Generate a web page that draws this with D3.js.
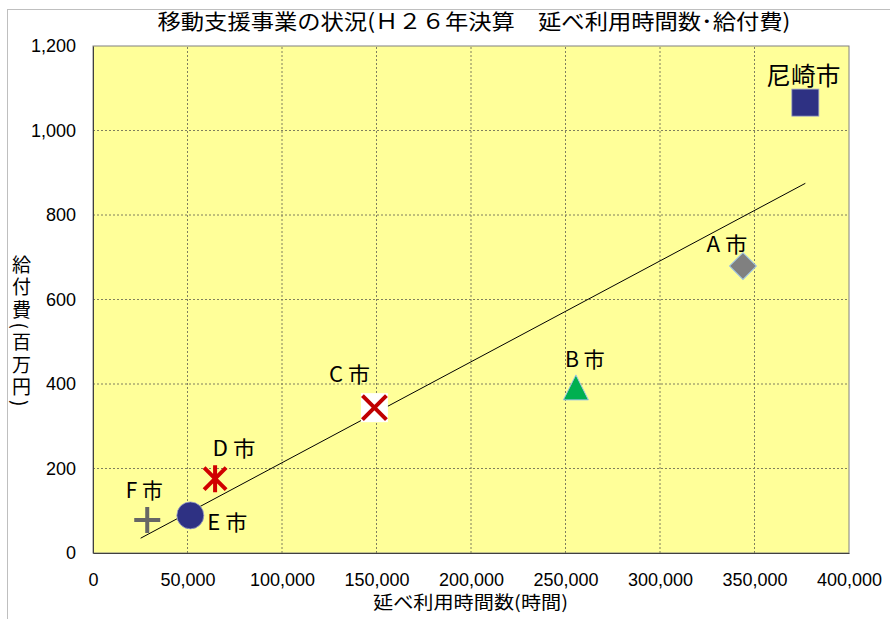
<!DOCTYPE html>
<html>
<head>
<meta charset="utf-8">
<script src="https://cdn.jsdelivr.net/npm/d3@7"></script>
<style>
  body { margin: 0; background: #fff; }
  svg { display: block; }
</style>
</head>
<body>
<div id="chart"></div>
<script>
// データ
const cities = ["尼崎市", "A 市", "B 市", "C 市", "D 市", "E 市", "F 市"];
const hours  = [376900, 343900, 255500, 148900, 64600, 51500, 28700];
const costs  = [1066, 679, 392, 344, 176, 89, 78];

// 近似直線の両端
const trendHours = [25200, 376900];
const trendCosts = [35, 875];

const xTicks = [0, 50000, 100000, 150000, 200000, 250000, 300000, 350000, 400000];
const yTicks = [0, 200, 400, 600, 800, 1000, 1200];

const titleText = "移動支援事業の状況(Ｈ２６年決算　延べ利用時間数･給付費)";
const xTitle = "延べ利用時間数(時間)";
const yTitle = "給付費(百万円)";

const width = 890, height = 619;
const jp = "'Noto Sans CJK JP', sans-serif";
const num = "'Liberation Sans', Arial, sans-serif";

const svg = d3.select("#chart").append("svg")
  .attr("width", width)
  .attr("height", height);

// 外枠
svg.append("rect")
  .attr("x", 7.5).attr("y", 9.5)
  .attr("width", 900).attr("height", 700)
  .attr("fill", "#fff")
  .attr("stroke", "#bfbfbf");

const x = d3.scaleLinear().domain([0, 400000]).range([93, 849]);
const y = d3.scaleLinear().domain([0, 1200]).range([553, 46]);

// プロットエリア
svg.append("rect")
  .attr("x", x(0)).attr("y", y(1200))
  .attr("width", x(400000) - x(0))
  .attr("height", y(0) - y(1200))
  .attr("fill", "#ffff99")
  .attr("stroke", "#808080");

// 目盛線
const grid = svg.append("g").attr("class", "grid");
grid.selectAll("line.v")
  .data(xTicks.slice(1, -1))
  .enter().append("line")
  .attr("x1", d => x(d)).attr("x2", d => x(d))
  .attr("y1", y(0)).attr("y2", y(1200))
  .attr("stroke", "#7f7f5f")
  .attr("stroke-dasharray", "2,2");
grid.selectAll("line.h")
  .data(yTicks.slice(1, -1))
  .enter().append("line")
  .attr("y1", d => y(d)).attr("y2", d => y(d))
  .attr("x1", x(0)).attr("x2", x(400000))
  .attr("stroke", "#7f7f5f")
  .attr("stroke-dasharray", "2,2");

// 軸
const xAxis = svg.append("g")
  .attr("transform", `translate(0,${y(0)})`)
  .call(d3.axisBottom(x).tickValues(xTicks).tickSize(0).tickPadding(20).tickFormat(d3.format(",")));
const yAxis = svg.append("g")
  .attr("transform", `translate(${x(0)},0)`)
  .call(d3.axisLeft(y).tickValues(yTicks).tickSize(0).tickPadding(17).tickFormat(d3.format(",")));
[xAxis, yAxis].forEach(a => {
  a.select(".domain").attr("stroke", "#404040");
  a.selectAll("text")
    .attr("font-family", num)
    .attr("font-size", 18)
    .attr("fill", "#000");
});

// 近似直線
svg.append("line")
  .attr("x1", x(trendHours[0])).attr("y1", y(trendCosts[0]))
  .attr("x2", x(trendHours[1])).attr("y2", y(trendCosts[1]))
  .attr("stroke", "#000")
  .attr("stroke-width", 1);

// マーカー
const points = cities.map((c, i) => ({ name: c, h: hours[i], c: costs[i] }));

function drawMarker(g, i) {
  if (i === 0) { // 尼崎市: 四角
    g.append("rect").attr("x", -13.5).attr("y", -13.5).attr("width", 27).attr("height", 27)
      .attr("fill", "#2e3183").attr("stroke", "#9aa0c8").attr("stroke-width", 0.8);
  } else if (i === 1) { // A市: ひし形
    g.append("rect").attr("x", -9.5).attr("y", -9.5).attr("width", 19).attr("height", 19)
      .attr("transform", "rotate(45)")
      .attr("fill", "#808080").attr("stroke", "#9dc3e6").attr("stroke-width", 1);
  } else if (i === 2) { // B市: 三角
    g.append("path").attr("d", "M0,-12.5L12.5,12.5L-12.5,12.5Z")
      .attr("fill", "#00b050").attr("stroke", "#9dc3e6").attr("stroke-width", 1);
  } else if (i === 3) { // C市: ×
    g.append("rect").attr("x", -13.5).attr("y", -14.5).attr("width", 27).attr("height", 29)
      .attr("fill", "#fff");
    g.append("path").attr("d", "M-12,-12L12,12M12,-12L-12,12")
      .attr("stroke", "#c00000").attr("stroke-width", 4).attr("fill", "none");
  } else if (i === 4) { // D市: ＊
    g.append("path").attr("d", "M0,-13.5L0,13.5M-11,-11L11,11M11,-11L-11,11")
      .attr("stroke", "#d00000").attr("stroke-width", 4).attr("fill", "none");
  } else if (i === 5) { // E市: 丸
    g.append("circle").attr("r", 13.5)
      .attr("fill", "#2e3183").attr("stroke", "#9aa0c8").attr("stroke-width", 0.8);
  } else { // F市: ＋
    g.append("path").attr("d", "M-13,0L13,0M0,-13L0,13")
      .attr("stroke", "#666666").attr("stroke-width", 4).attr("fill", "none");
  }
}

svg.append("g").selectAll("g")
  .data(points)
  .enter().append("g")
  .attr("transform", d => `translate(${x(d.h)},${y(d.c)})`)
  .each(function (d, i) { drawMarker(d3.select(this), i); });

// ラベル位置（マーカー中心からのずれ）
const labelOffset = [[-2, -18], [-16, -14], [9, -20], [-25, -26], [19, -23], [37, 15], [-3, -22]];
const labelWidth = [74, 41, 40, 41, 43, 40, 37];
svg.append("g").selectAll("text")
  .data(points)
  .enter().append("text")
  .attr("x", (d, i) => x(d.h) + labelOffset[i][0])
  .attr("y", (d, i) => y(d.c) + labelOffset[i][1])
  .attr("text-anchor", "middle")
  .attr("font-family", jp)
  .attr("font-size", (d, i) => i === 0 ? 25 : 21)
  .attr("textLength", (d, i) => labelWidth[i])
  .attr("lengthAdjust", "spacingAndGlyphs")
  .attr("fill", "#000")
  .text(d => d.name);

// タイトル
svg.append("text")
  .attr("x", 474).attr("y", 29)
  .attr("text-anchor", "middle")
  .attr("font-family", jp)
  .attr("font-size", 21)
  .attr("textLength", 633)
  .attr("lengthAdjust", "spacingAndGlyphs")
  .text(titleText);

// X軸タイトル
svg.append("text")
  .attr("x", 470.5).attr("y", 609)
  .attr("text-anchor", "middle")
  .attr("font-family", jp)
  .attr("font-size", 18)
  .attr("textLength", 195)
  .attr("lengthAdjust", "spacingAndGlyphs")
  .text(xTitle);

// Y軸タイトル（縦書き）
svg.append("text")
  .attr("x", 21.5).attr("y", 255)
  .attr("font-family", jp)
  .attr("font-size", 19)
  .attr("letter-spacing", 3.5)
  .style("writing-mode", "vertical-rl")
  .text(yTitle);
</script>
</body>
</html>
